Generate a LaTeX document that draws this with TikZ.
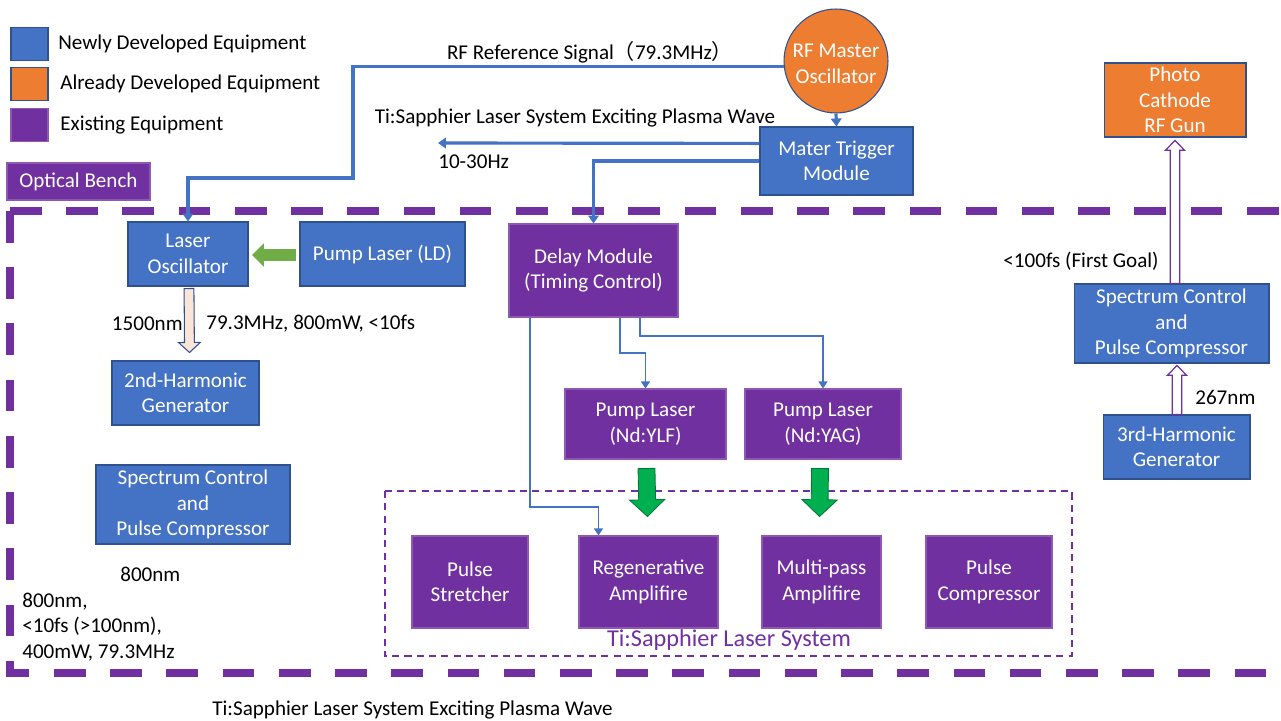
\documentclass[tikz,border=0pt]{standalone}
\usepackage{fontspec}
\setmainfont{Carlito}
\newfontfamily\cjk{Noto Sans CJK SC}
\usetikzlibrary{calc, arrows.meta}

\definecolor{newblue}{HTML}{4472C4}
\definecolor{edgeblue}{HTML}{2F528F}
\definecolor{devorange}{HTML}{ED7D31}
\definecolor{oldpurple}{HTML}{7030A0}
\definecolor{ldgreen}{HTML}{70AD47}
\definecolor{pumpgreen}{HTML}{00B050}
\definecolor{peach}{HTML}{FBE5D6}

% fat block arrow: style, from, to, half shaft, half head, head length
\newcommand{\fatarrow}[6]{%
  \path coordinate (fa-n) at ($(#3)!#6!(#2)$);
  \draw[#1] ($(#2)!#4!90:(#3)$) -- ($(fa-n)!#4!-90:(#2)$) -- ($(fa-n)!#5!-90:(#2)$)
    -- (#3) -- ($(fa-n)!#5!90:(#2)$) -- ($(fa-n)!#4!90:(#2)$) -- ($(#2)!#4!-90:(#3)$) -- cycle;}

\begin{document}
\begin{tikzpicture}[x=0.02cm, y=-0.02cm,
    font=\fontsize{12}{14.5}\selectfont,
    newbox/.style={draw=edgeblue, fill=newblue, text=white, align=center, inner sep=1pt, line width=0.6pt},
    devbox/.style={draw=edgeblue, fill=devorange, text=white, align=center, inner sep=1pt, line width=0.6pt},
    oldbox/.style={draw=oldpurple!80!white, fill=oldpurple, text=white, align=center, inner sep=1pt, line width=0.6pt},
    txt/.style={inner sep=0pt, text=black, align=left},
    sig/.style={draw=newblue, line width=1.8pt, -{Triangle[width=6pt,length=4.5pt]}},
    thinsig/.style={draw=newblue, line width=1.1pt, -{Triangle[width=5pt,length=4pt]}}]
    \useasboundingbox (0,0) rectangle (1281,720);

    % legend
    \node[newbox, minimum width=0.74cm, minimum height=0.66cm](keynew) at (29.5,44){};
    \node[devbox, minimum width=0.74cm, minimum height=0.66cm](keydev) at (29.5,84){};
    \node[oldbox, minimum width=0.74cm, minimum height=0.66cm](keyold) at (29.5,125){};
    \node[txt, anchor=west](keynewtxt) at (58,44){Newly Developed Equipment};
    \node[txt, anchor=west](keydevtxt) at (60,84){Already Developed Equipment};
    \node[txt, anchor=west](keyoldtxt) at (60,125){Existing Equipment};

    % optical bench frame
    \node[oldbox, minimum width=2.86cm, minimum height=0.74cm](bench) at (78.5,181.5){Optical Bench};
    \draw[oldpurple, line width=4.5pt, dash pattern=on 18pt off 14pt] (10,211) -- (1300,211);
    \draw[oldpurple, line width=4.5pt, dash pattern=on 18pt off 14pt] (10,211) -- (10,673) -- (1300,673);

    % Ti:Sapphier frame
    \draw[oldpurple, line width=1.2pt, dash pattern=on 4pt off 3pt] (385,491) rectangle (1072,656);
    \node[txt, text=oldpurple, font=\fontsize{13.8}{16}\selectfont](tslabel) at (729,640){Ti:Sapphier Laser System};

    % timing
    \node[circle, devbox, minimum size=2.08cm](rfmo) at (836,61){};
    \node[text=white, align=center](rfmotxt) at (836,64){RF Master\\Oscillator};
    \node[newbox, minimum width=3.06cm, minimum height=1.36cm](mtm) at (836.5,161){Mater Trigger\\Module};
    \node[oldbox, minimum width=3.38cm, minimum height=1.86cm](delay) at (593.5,270.5){Delay Module\\(Timing Control)};

    % left column
    \node[newbox, minimum width=2.4cm, minimum height=1.28cm](osc) at (188,254){Laser\\Oscillator};
    \node[newbox, minimum width=3.3cm, minimum height=1.28cm](ld) at (382.5,254){Pump Laser (LD)};
    \node[newbox, minimum width=2.94cm, minimum height=1.28cm](shg) at (185.5,393){2nd-Harmonic\\Generator};
    \node[newbox, minimum width=3.88cm, minimum height=1.58cm](specl) at (193,504.5){Spectrum Control\\and\\Pulse Compressor};

    % Ti:Sapphier system
    \node[oldbox, minimum width=3.22cm, minimum height=1.4cm](ylf) at (645.5,424){Pump Laser\\(Nd:YLF)};
    \node[oldbox, minimum width=3.12cm, minimum height=1.4cm](yag) at (823,424){Pump Laser\\(Nd:YAG)};
    \node[oldbox, minimum width=2.32cm, minimum height=1.84cm](stretch) at (470,582){Pulse\\Stretcher};
    \node[oldbox, minimum width=2.78cm, minimum height=1.84cm](regen) at (648.5,582){Regenerative\\Amplifire};
    \node[oldbox, minimum width=2.38cm, minimum height=1.84cm](multi) at (821.5,582){Multi-pass\\Amplifire};
    \node[oldbox, minimum width=2.52cm, minimum height=1.84cm](comp) at (989,582){Pulse\\Compressor};

    % right column
    \node[devbox, minimum width=2.84cm, minimum height=1.48cm](gun) at (1175,100){Photo\\Cathode\\RF Gun};
    \node[newbox, minimum width=3.9cm, minimum height=1.58cm](specr) at (1171.5,323.5){Spectrum Control\\and\\Pulse Compressor};
    \node[newbox, minimum width=2.94cm, minimum height=1.28cm](thg) at (1176.5,447){3rd-Harmonic\\Generator};

    % labels
    \node[txt](rflabel) at (590,52){RF Reference Signal{\cjk （}79.3MHz{\cjk ）}};
    \node[txt](plasmatop) at (575,118){Ti:Sapphier Laser System Exciting Plasma Wave};
    \node[txt, anchor=west](ratelabel) at (438,162){10-30Hz};
    \node[txt, anchor=east](nm1500) at (183,324){1500nm};
    \node[txt, anchor=west](osclabel) at (206,324){79.3MHz, 800mW, <10fs};
    \node[txt, anchor=west](nm800) at (120,574){800nm};
    \node[txt, anchor=west](outlabel) at (22,627){800nm,\\<10fs (>100nm),\\400mW, 79.3MHz};
    \node[txt, anchor=west](plasmabot) at (212,710){Ti:Sapphier Laser System Exciting Plasma Wave};
    \node[txt, anchor=east](goal) at (1159,261){<100fs (First Goal)};
    \node[txt, anchor=west](nm267) at (1195,397){267nm};

    % signal lines
    \coordinate (rfbend) at (353,178);
    \coordinate (plasmaend) at (438,143);
    \coordinate (regbend) at (530,507);
    \coordinate (ylfbend) at (620,353);
    \coordinate (yagbend) at (640,336);
    \draw[sig] (rfmo.186) -| (rfbend) -| (osc.north);
    \draw[sig] (rfmo.south) -- (mtm.north);
    \draw[sig] ([yshift=10pt]mtm.west) -- (plasmaend);
    \draw[sig] (mtm.west) -| (delay.north);
    \draw[thinsig] (delay.south -| regbend) -- (regbend) -| ([xshift=0.4cm]regen.north west);
    \draw[thinsig] (delay.south -| ylfbend) -- (ylfbend) -| (ylf.north);
    \draw[thinsig] (delay.south -| yagbend) -- (yagbend) -| (yag.north);

    % block arrows
    \coordinate (ldout) at ($(ld.west)+(-4,1)$);
    \coordinate (oscin) at ($(osc.east)+(4,1)$);
    \coordinate (oscout) at ($(osc.south)+(1,2)$);
    \coordinate (shgin) at ($(shg.north)+(4,-8)$);
    \coordinate (ylfout) at ($(ylf.south)+(1,9)$);
    \coordinate (regin) at ($(regen.north)+(-1,-19)$);
    \coordinate (yagout) at ($(yag.south)+(-3,9)$);
    \coordinate (multiin) at ($(multi.north)+(-2,-19)$);
    \coordinate (thgout) at ($(thg.north)+(0.5,0)$);
    \coordinate (specrin) at ($(specr.south)+(5.5,2)$);
    \coordinate (specrout) at ($(specr.north)+(3.5,0)$);
    \coordinate (gunin) at ($(gun.south)+(0,3)$);
    \fatarrow{fill=ldgreen, draw=ldgreen}{ldout}{oscin}{3.1pt}{6.2pt}{6.2pt}
    \fatarrow{fill=peach, draw=edgeblue, line width=0.6pt}{oscout}{shgin}{2.8pt}{6.2pt}{5.7pt}
    \fatarrow{fill=pumpgreen, draw=pumpgreen!70!black, line width=0.5pt}{ylfout}{regin}{4.8pt}{10pt}{9.5pt}
    \fatarrow{fill=pumpgreen, draw=pumpgreen!70!black, line width=0.5pt}{yagout}{multiin}{4.8pt}{10pt}{9.5pt}
    \fatarrow{fill=white, draw=oldpurple, line width=0.7pt}{thgout}{specrin}{2.7pt}{5.4pt}{5.5pt}
    \fatarrow{fill=white, draw=oldpurple, line width=0.7pt}{specrout}{gunin}{2.7pt}{5.4pt}{5.5pt}
\end{tikzpicture}
\end{document}
